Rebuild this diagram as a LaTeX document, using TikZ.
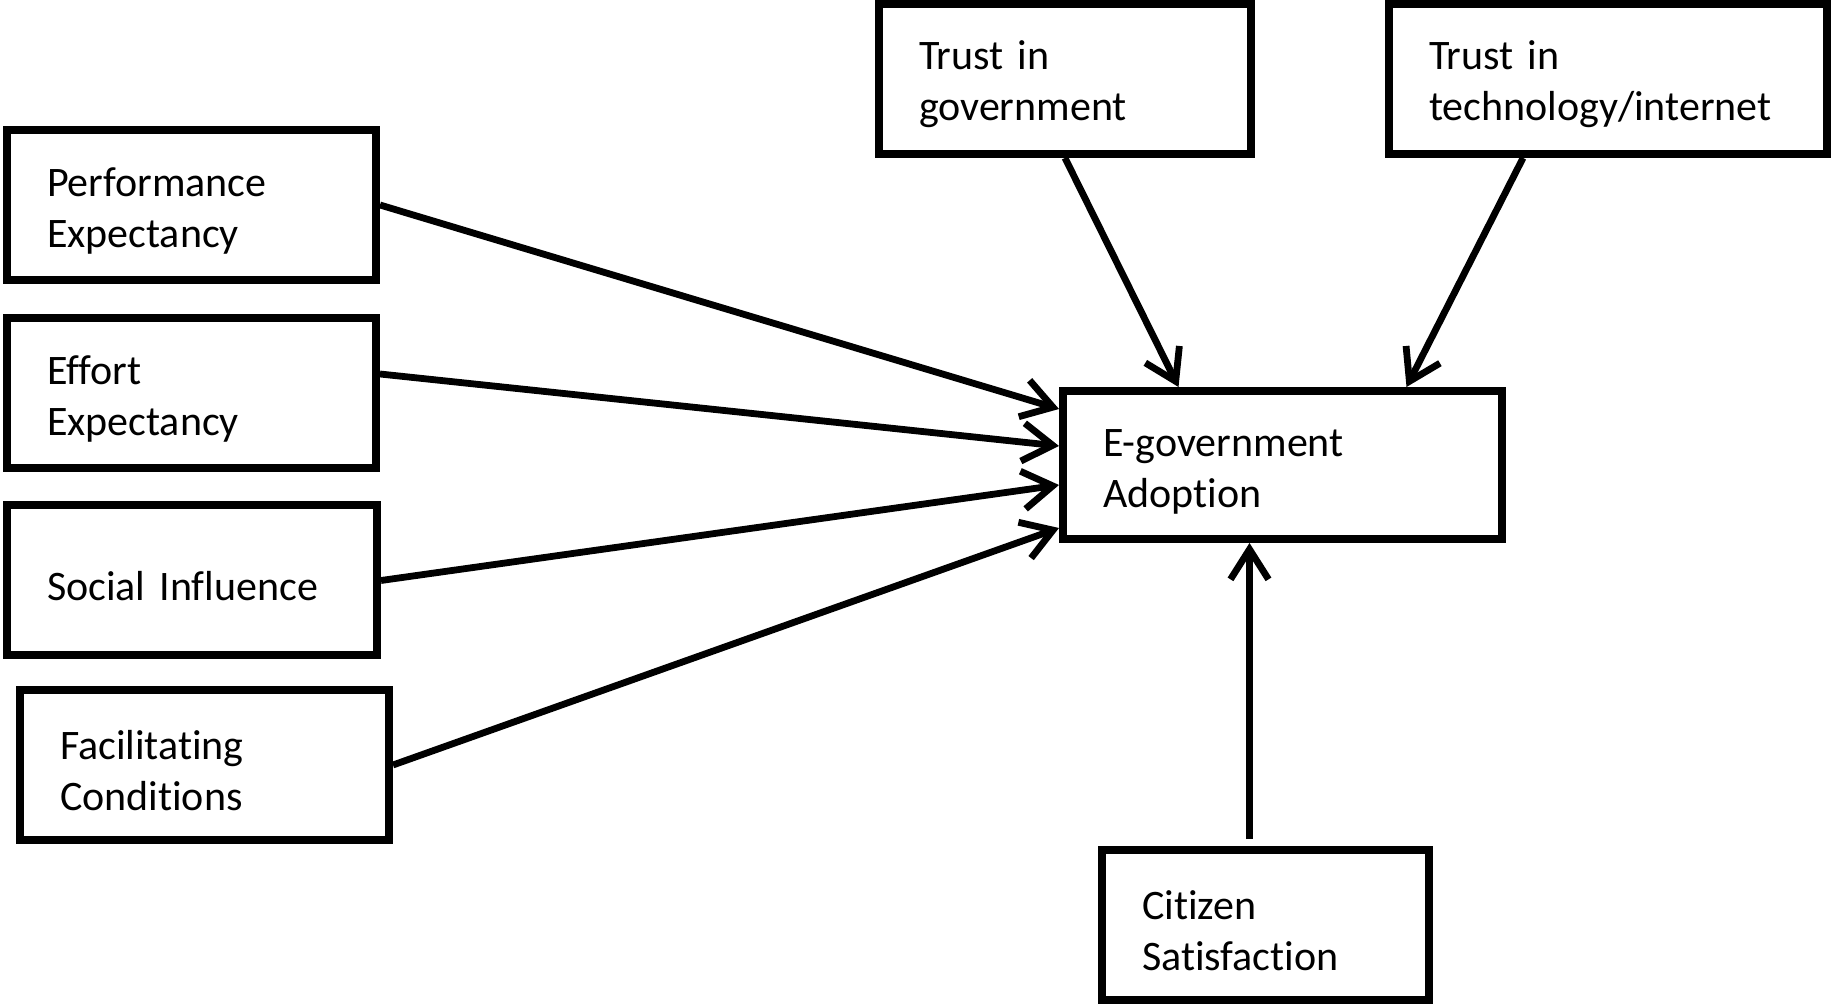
\documentclass[tikz,border=0pt]{standalone}
\usepackage{fontspec}
\setmainfont{Carlito}[RawFeature=-liga, WordSpace=0.8]
\usetikzlibrary{arrows.meta,positioning}
\definecolor{modelInk}{HTML}{000000}
\tikzset{
  every picture/.style={font=\fontsize{21pt}{25.5pt}\selectfont, text=modelInk},
  model box/.style={draw=modelInk, line width=4pt, fill=white, align=left,
    minimum height=75pt, inner xsep=20pt, inner ysep=0pt,
    execute at begin node={\rule{0pt}{20pt}}},
  model arrow/.style={-{Straight Barb[length=15pt,width=19pt]},
    draw=modelInk, line width=3.4pt, line cap=butt}
}

\begin{document}
\begin{tikzpicture}[x=0.5pt,y=-0.5pt]
  \useasboundingbox (0,0) rectangle (1831,1004);
  % predictors on the left
  \node[model box,text width=144.5pt] (perf) at (191.5,205) {Performance\\Expectancy};
  \node[model box,text width=144.5pt] (effort) at (191.5,393) {Effort\\Expectancy};
  \node[model box,text width=145pt] (social) at (192,580.5) {Social Influence};
  \node[model box,text width=144.5pt] (facil) at (204.5,765) {Facilitating\\Conditions};
  % trust boxes on top
  \node[model box,text width=146pt] (trustgov) at (1065,79) {Trust in\\government};
  \node[model box,text width=179pt] (trusttech) at (1608,79) {Trust in\\technology/internet};
  % outcome
  \node[model box,text width=179.5pt,minimum height=74pt] (adopt) at (1282.5,465) {E-government\\Adoption};
  \node[model box,text width=123.5pt] (citizen) at (1265.5,925) {Citizen\\Satisfaction};

  \draw[model arrow] (perf.east) -- ([yshift=28pt]adopt.west);
  \draw[model arrow] ([yshift=9.5pt]effort.east) -- ([yshift=9.5pt]adopt.west);
  \draw[model arrow] (social.east) -- ([yshift=-10pt]adopt.west);
  \draw[model arrow] (facil.east) -- ([yshift=-31.5pt]adopt.west);
  \draw[model arrow] (trustgov.south) -- ([xshift=-52pt]adopt.north);
  \draw[model arrow] ([xshift=-42.5pt]trusttech.south) -- ([xshift=62pt]adopt.north);
  \draw[model arrow] ([xshift=-8pt,yshift=3.5pt]citizen.north) -- ([xshift=-8pt]citizen.north |- adopt.south);
\end{tikzpicture}
\end{document}
